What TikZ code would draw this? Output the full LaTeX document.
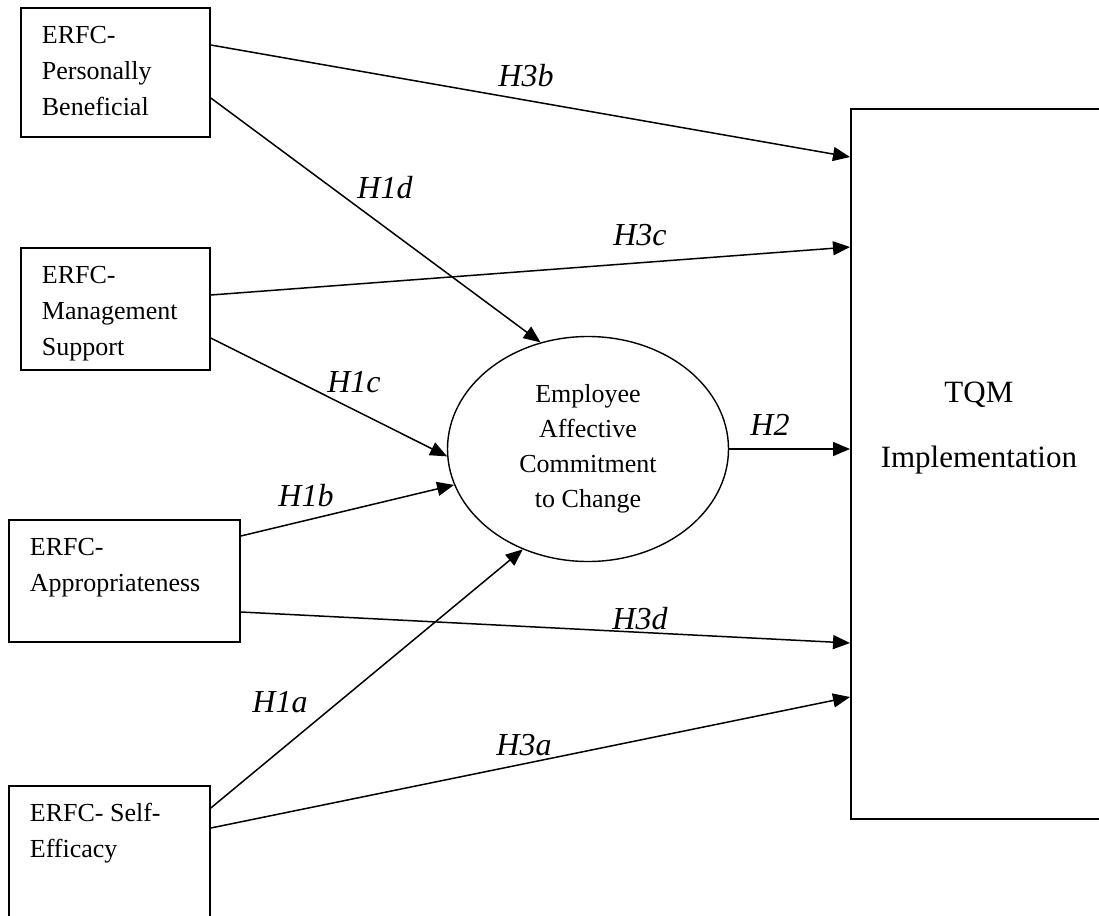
\documentclass[tikz,border=0pt]{standalone}
\usepackage{fontspec}
\setmainfont{Liberation Serif}
\usepackage{tikz}
\usetikzlibrary{arrows.meta,shapes.geometric}

\tikzset{
  factorbox/.style={draw, line width=1.8pt, anchor=north west, inner sep=0pt},
  hyparrow/.style={line width=1.5pt, -{Triangle[length=17pt,width=14pt]}},
  hyplabel/.style={font=\fontsize{32}{36}\selectfont\itshape, inner sep=0pt},
}
\newcommand{\factortext}[3]{\parbox[c][#2][t]{#1}{\fontsize{26}{36}\selectfont\raggedright\hspace*{21pt}\rule{0pt}{36pt}#3}}

\begin{document}
\begin{tikzpicture}[x=1pt,y=-1pt]
      \useasboundingbox (0,0) rectangle (1099,915);
      \clip (0,0) rectangle (1099,915);
      \fill[white] (0,0) rectangle (1099,915);

      \node[factorbox] (pb) at (20,7)
        {\factortext{189pt}{129pt}{ERFC-\\\hspace*{21pt}Personally\\\hspace*{21pt}Beneficial}};
      \node[factorbox] (ms) at (20,247)
        {\factortext{189pt}{122pt}{ERFC-\\\hspace*{21pt}Management\\\hspace*{21pt}Support}};
      \node[factorbox] (ap) at (8,519)
        {\factortext{231pt}{122pt}{ERFC-\\\hspace*{21pt}Appropriateness}};
      \node[factorbox] (se) at (8,785)
        {\factortext{201pt}{170pt}{ERFC- Self-\\\hspace*{21pt}Efficacy}};

      \node[ellipse, draw, line width=1.4pt, minimum width=281pt, minimum height=225pt,
            inner sep=0pt, align=center, font=\fontsize{26}{35}\selectfont]
        (eac) at (588,449) {Employee\\Affective\\Commitment\\to Change};

      \node[factorbox] (tqm) at (850,108)
        {\parbox[c][710pt][t]{256pt}{\centering\fontsize{31}{65}\selectfont
          \rule{0pt}{294pt}TQM\\Implementation}};

      \draw[hyparrow] ([yshift=-38pt]pb.north east) -- ([yshift=-49pt]tqm.north west);
      \draw[hyparrow] ([yshift=-91pt]pb.north east) -- (eac.114);
      \draw[hyparrow] ([yshift=-48pt]ms.north east) -- ([yshift=-139pt]tqm.north west);
      \draw[hyparrow] ([yshift=-91pt]ms.north east) -- (eac.183);
      \draw[hyparrow] ([yshift=-17pt]ap.north east) -- (eac.195);
      \draw[hyparrow] ([yshift=-93pt]ap.north east) -- ([yshift=-535pt]tqm.north west);
      \draw[hyparrow] ([yshift=-23pt]se.north east) -- (eac.237);
      \draw[hyparrow] ([yshift=-43pt]se.north east) -- ([yshift=-589pt]tqm.north west);
      \draw[hyparrow] (eac.east) -- (eac.east -| tqm.west);

      \node[hyplabel] (h3b) at (526,76) {H3b};
      \node[hyplabel] (h1d) at (385,188) {H1d};
      \node[hyplabel] (h3c) at (640,235) {H3c};
      \node[hyplabel] (h1c) at (354,382) {H1c};
      \node[hyplabel] (h2) at (770,425) {H2};
      \node[hyplabel] (h1b) at (306,496) {H1b};
      \node[hyplabel] (h3d) at (640,619) {H3d};
      \node[hyplabel] (h1a) at (280,702) {H1a};
      \node[hyplabel] (h3a) at (524,745) {H3a};
    \end{tikzpicture}
\end{document}
